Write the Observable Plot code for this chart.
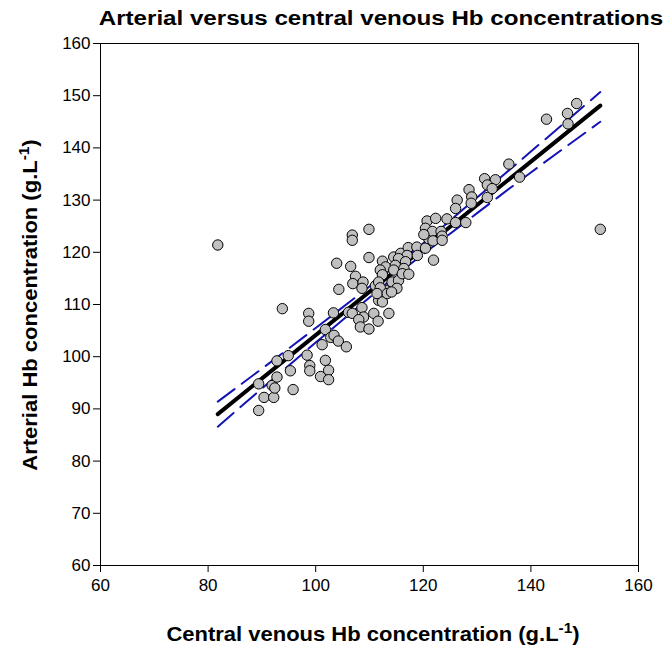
<!DOCTYPE html>
<html><head><meta charset="utf-8">
<script src="https://cdn.jsdelivr.net/npm/d3@7"></script>
<script src="https://cdn.jsdelivr.net/npm/@observablehq/plot@0.6"></script>
<style>body{margin:0;background:#fff}</style>
</head><body><div id="chart"></div>
<script>
// Central venous Hb (x) and arterial Hb (y), g/L
const venous = [81.8, 89.4, 89.4, 90.4, 92.2, 91.9, 92.4, 92.8, 92.8, 93.8,
  94.9, 95.3, 95.8, 98.4, 98.9, 98.9, 98.7, 98.7, 100.9, 101.2,
  101.8, 101.8, 102.4, 102.4, 102.8, 103.3, 103.4, 104.2, 105.7, 103.9,
  104.3, 106.1, 106.8, 106.8, 106.8, 106.5, 107.4, 106.9, 108.8, 108.6,
  108.6, 108.9, 108.0, 108.3, 109.9, 109.9, 109.9, 110.8, 111.6, 111.1,
  111.7, 112.4, 113.0, 113.6, 112.4, 113.0, 112.0, 112.4, 111.7, 112.0,
  111.4, 113.3, 114.2, 115.4, 115.1, 114.1, 114.5, 115.8, 117.2, 117.0,
  115.4, 116.7, 114.8, 116.4, 114.5, 116.1, 117.3, 118.8, 118.9, 120.4,
  121.0, 121.9, 120.7, 122.3, 120.4, 121.7, 120.1, 123.3, 121.8, 123.5,
  123.5, 124.4, 126.0, 127.9, 126.3, 126.0, 128.5, 129.0, 128.9, 131.9,
  131.4, 133.4, 131.9, 132.8, 135.9, 137.9, 142.9, 146.8, 146.9, 148.5,
  152.9];
const arterial = [121.4, 89.7, 94.8, 92.2, 92.2, 94.5, 94.0, 96.1, 99.2, 109.2,
  100.2, 97.3, 93.7, 100.3, 98.3, 97.3, 108.3, 106.8, 96.2, 102.3,
  99.3, 105.2, 97.4, 95.6, 103.7, 108.4, 104.1, 103.0, 101.9, 117.9,
  112.9, 108.5, 108.3, 123.3, 122.3, 117.3, 115.4, 114.0, 114.3, 113.1,
  109.4, 107.6, 107.1, 105.7, 105.3, 124.4, 119.0, 108.3, 106.8, 113.6,
  110.8, 110.5, 112.7, 108.3, 118.3, 117.2, 116.6, 115.7, 114.3, 113.2,
  112.1, 112.1, 114.3, 114.6, 113.1, 112.4, 119.1, 119.8, 120.9, 119.4,
  118.8, 118.2, 117.5, 116.9, 116.6, 115.9, 115.8, 121.0, 119.4, 120.8,
  122.6, 118.5, 126.0, 126.5, 124.6, 124.0, 123.4, 124.0, 122.2, 123.1,
  122.3, 126.4, 125.7, 125.7, 130.0, 128.4, 132.0, 130.6, 129.4, 130.5,
  134.1, 133.9, 132.9, 132.2, 136.9, 134.4, 145.5, 146.6, 144.6, 148.5,
  124.4];

// Regression line
const fitX = [81.8, 152.9];
const fitY = [89.0, 148.1];

// 95% confidence band
const ciX = [81.8, 90, 100, 110, 115, 120, 130, 140, 152.9];
const ciUpper = [91.4, 97.7, 105.5, 113.45, 117.6, 121.75, 130.5, 139.3, 150.7];
const ciLower = [86.6, 93.9, 102.7, 111.35, 115.6, 119.65, 127.5, 135.3, 145.0];

const xTicks = [60, 80, 100, 120, 140, 160];
const yTicks = [60, 70, 80, 90, 100, 110, 120, 130, 140, 150, 160];

const titleText = "Arterial versus central venous Hb concentrations";
const xLabel = "Central venous Hb concentration (g.L";
const yLabel = "Arterial Hb concentration (g.L";

const points = venous.map((v, i) => ({v, a: arterial[i]}));
const fit = fitX.map((x, i) => ({x, y: fitY[i]}));
const upper = ciX.map((x, i) => ({x, y: ciUpper[i]}));
const lower = ciX.map((x, i) => ({x, y: ciLower[i]}));

const font = "'Liberation Sans', Arial, Helvetica, sans-serif";

const plot = Plot.plot({
  width: 671, height: 651,
  marginLeft: 100, marginRight: 33, marginTop: 43, marginBottom: 86,
  x: {domain: [60, 160]},
  y: {domain: [60, 160]},
  style: {fontFamily: font, fontSize: "17px", color: "#000", background: "#fff", overflow: "visible"},
  marks: [
    Plot.frame({stroke: "#000", strokeWidth: 1}),
    Plot.axisX({ticks: xTicks, tickSize: 7, tickPadding: 6, label: null, fontSize: 17, tickFormat: d => d}),
    Plot.axisY({ticks: yTicks, tickSize: 7, tickPadding: 3, label: null, fontSize: 17, tickFormat: d => d}),
    Plot.line(upper, {x: "x", y: "y", stroke: "#1414b4", strokeWidth: 2, strokeDasharray: "21,9", curve: "natural"}),
    Plot.line(lower, {x: "x", y: "y", stroke: "#1414b4", strokeWidth: 2, strokeDasharray: "21,9", curve: "natural"}),
    Plot.line(fit, {x: "x", y: "y", stroke: "#000", strokeWidth: 4}),
    Plot.dot(points, {x: "v", y: "a", r: 5.2, fill: "#c0c0c0", stroke: "#000", strokeWidth: 1})
  ]
});

const svg = d3.select(plot);
svg.append("text")
  .attr("transform", "translate(381,25) scale(1.15,1)")
  .attr("text-anchor", "middle")
  .attr("font-family", font).attr("font-weight", "bold").attr("font-size", 21)
  .attr("fill", "#000")
  .text(titleText);

const xt = svg.append("text")
  .attr("transform", "translate(373,641) scale(1.1,1)")
  .attr("text-anchor", "middle")
  .attr("font-family", font).attr("font-weight", "bold").attr("font-size", 20)
  .attr("fill", "#000");
xt.append("tspan").text(xLabel);
xt.append("tspan").attr("dy", -8).attr("font-size", 14).text("-1");
xt.append("tspan").attr("dy", 8).text(")");

const yt = svg.append("text")
  .attr("transform", "translate(37,305) rotate(-90) scale(1.1,1)")
  .attr("text-anchor", "middle")
  .attr("font-family", font).attr("font-weight", "bold").attr("font-size", 20)
  .attr("fill", "#000");
yt.append("tspan").text(yLabel);
yt.append("tspan").attr("dy", -8).attr("font-size", 14).text("-1");
yt.append("tspan").attr("dy", 8).text(")");

document.getElementById("chart").appendChild(plot);
</script>
</body></html>
